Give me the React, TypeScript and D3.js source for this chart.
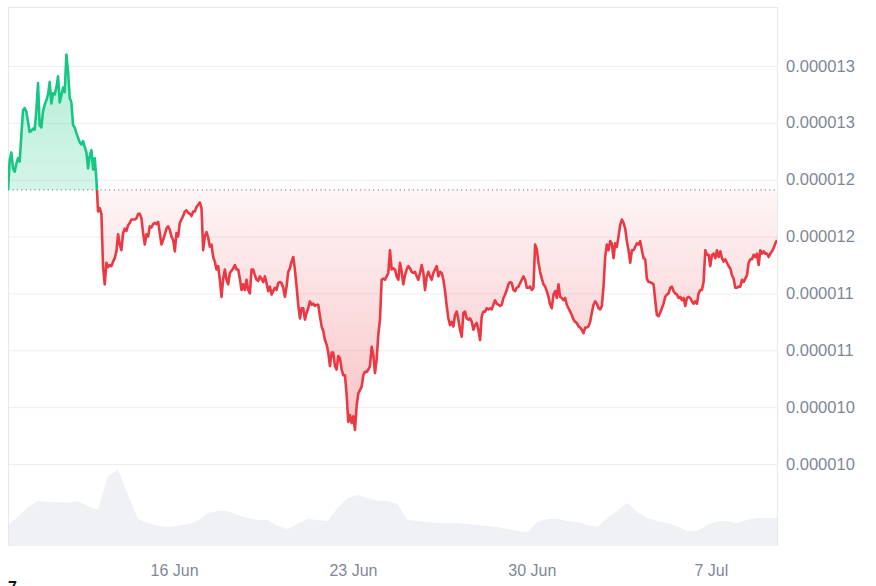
import React, { useEffect, useRef } from "react";
import * as d3 from "d3";

// Price series (in units of 1e-6 USD), evenly spaced in time over the period
const PRICE_A = [
  11.91, 12.17, 12.24, 12.10, 12.07, 12.14, 12.19, 12.16, 12.39, 12.61,
  12.63, 12.60, 12.51, 12.42, 12.43, 12.45, 12.44, 12.61, 12.85, 12.48,
  12.46, 12.60, 12.66, 12.70, 12.75, 12.86, 12.67, 12.76, 12.75, 12.81,
  12.91, 12.68, 12.74, 12.81, 12.77, 13.10, 12.95, 12.72, 12.68, 12.48,
  12.46, 12.41, 12.37, 12.33, 12.31, 12.34, 12.29, 12.24, 12.10, 12.21,
  12.26, 12.09, 12.19, 12.00, 11.72, 11.75, 11.70, 11.23, 11.08, 11.27,
  11.23, 11.25, 11.24, 11.28, 11.31, 11.37, 11.52, 11.43, 11.38, 11.53,
  11.57, 11.55, 11.60, 11.62, 11.65, 11.65,
];
const PRICE_B = [
  11.65, 11.66, 11.70, 11.70, 11.66, 11.53, 11.43, 11.52, 11.50, 11.59,
  11.58, 11.61, 11.62, 11.61, 11.63, 11.53, 11.43, 11.47, 11.52, 11.57,
  11.59, 11.56, 11.50, 11.47, 11.37, 11.53, 11.50, 11.62, 11.65, 11.68,
  11.72, 11.73, 11.71, 11.70, 11.68, 11.72, 11.72, 11.76, 11.78, 11.80,
  11.75, 11.38, 11.50, 11.54, 11.49, 11.41, 11.43, 11.32, 11.28, 11.21,
  11.24, 11.12, 10.97, 11.13, 11.21, 11.12, 11.08, 11.18, 11.20, 11.22,
  11.25, 11.21, 11.21, 11.13, 11.03, 11.08, 11.03, 11.12, 11.03, 11.00,
  11.21, 11.21, 11.16, 11.12, 11.11,
];
const PRICE_C = [
  11.15, 11.13, 11.10, 11.15, 11.09, 11.02, 11.06, 10.99, 11.02, 11.05,
  11.03, 11.09, 11.10, 11.09, 11.05, 10.97, 11.06, 11.19, 11.22, 11.28,
  11.32, 11.21, 11.06, 10.90, 10.78, 10.87, 10.87, 10.77, 10.83, 10.87,
  10.93, 10.90, 10.91, 10.89, 10.90, 10.90, 10.80, 10.71, 10.67, 10.59,
  10.55, 10.48, 10.36, 10.48, 10.48, 10.36, 10.33, 10.45, 10.43, 10.33,
  10.28, 10.28, 10.11, 9.87, 9.93, 9.86, 9.92, 9.80, 10.01, 10.12,
  10.15, 10.18, 10.28, 10.31, 10.31, 10.33, 10.36, 10.53, 10.46, 10.30,
  10.42, 10.64, 10.77, 11.12, 11.13,
];
const PRICE_D = [
  11.12, 11.15, 11.18, 11.38, 11.21, 11.22, 11.21, 11.15, 11.12, 11.27,
  11.19, 11.08, 11.16, 11.21, 11.24, 11.22, 11.19, 11.18, 11.19, 11.15,
  11.12, 11.18, 11.25, 11.18, 11.03, 11.15, 11.19, 11.15, 11.12, 11.18,
  11.21, 11.24, 11.15, 11.19, 11.18, 11.12, 11.02, 10.89, 10.78, 10.72,
  10.75, 10.71, 10.81, 10.84, 10.77, 10.68, 10.62, 10.83, 10.84, 10.78,
  10.77, 10.78, 10.75, 10.68, 10.72, 10.74, 10.68, 10.59, 10.80, 10.84,
  10.84, 10.87, 10.86, 10.87, 10.86, 10.90, 10.94, 10.91, 10.90, 10.89,
  10.90, 10.96, 10.99, 11.03, 11.08,
];
const PRICE_E = [
  11.10, 11.09, 11.03, 11.02, 11.05, 11.06, 11.09, 11.12, 11.15, 11.12,
  11.05, 11.05, 11.06, 11.03, 11.05, 11.43, 11.39, 11.27, 11.19, 11.13,
  11.08, 11.06, 11.02, 10.97, 10.90, 10.87, 10.99, 11.02, 10.96, 11.08,
  10.97, 10.96, 10.94, 10.96, 10.90, 10.87, 10.84, 10.81, 10.77, 10.75,
  10.74, 10.71, 10.70, 10.68, 10.65, 10.70, 10.70, 10.71, 10.75, 10.83,
  10.90, 10.93, 10.91, 10.87, 10.86, 10.89, 11.06, 11.32, 11.43, 11.38,
  11.46, 11.44, 11.31, 11.44, 11.41, 11.50, 11.60, 11.65, 11.62, 11.57,
  11.46, 11.38, 11.27, 11.38, 11.38, 11.41, 11.44, 11.43,
];
const PRICE_F = [
  11.46, 11.38, 11.31, 11.30, 11.13, 11.10, 11.10, 11.09, 11.08, 10.94,
  10.81, 10.80, 10.83, 10.87, 10.91, 10.97, 10.99, 11.00, 11.05, 11.06,
  11.02, 11.00, 10.99, 10.96, 10.97, 10.94, 10.96, 10.89, 10.96, 10.97,
  10.96, 10.93, 10.91, 10.93, 10.91, 11.00, 11.03, 11.03, 11.10, 11.38,
  11.34, 11.34, 11.24, 11.34, 11.35, 11.31, 11.38, 11.32, 11.37, 11.31,
  11.28, 11.30, 11.27, 11.24, 11.22, 11.16, 11.13, 11.05, 11.05, 11.06,
  11.06, 11.12, 11.10, 11.13, 11.16, 11.27, 11.30, 11.30, 11.34, 11.32,
  11.35, 11.25, 11.38, 11.35, 11.37, 11.35, 11.35, 11.32, 11.35, 11.37,
  11.40, 11.44, 11.47,
];

// Volume (relative units), evenly spaced over the same period
const VOLUME = [
  21, 29, 39, 45, 44, 44, 43, 45, 40, 36,
  70, 76, 52, 27, 23, 20, 19, 20, 22, 25,
  33, 35, 35, 31, 28, 26, 26, 20, 17, 22,
  27, 26, 25, 38, 48, 51, 48, 45, 45, 42,
  26, 25, 24, 23, 23, 23, 22, 21, 20, 19,
  17, 15, 14, 24, 27, 27, 25, 24, 21, 19,
  28, 35, 43, 34, 28, 25, 23, 20, 15, 15,
  21, 25, 25, 23, 26, 28, 28, 28,
];

const Y_TICKS = [13.0, 12.5, 12.0, 11.5, 11.0, 10.5, 10.0, 9.5];
const Y_TICK_LABELS = [
  "0.000013", "0.000013", "0.000012", "0.000012",
  "0.000011", "0.000011", "0.000010", "0.000010",
];
const X_TICKS = [
  new Date(2024, 5, 16), new Date(2024, 5, 23),
  new Date(2024, 5, 30), new Date(2024, 6, 7),
];
const START = new Date(2024, 5, 9, 11, 40);
const END = new Date(2024, 6, 9, 13, 40);

const W = 876;
const H = 586;

export default function App() {
  const ref = useRef<SVGSVGElement>(null);

  useEffect(() => {
    const price = [...PRICE_A, ...PRICE_B, ...PRICE_C, ...PRICE_D, ...PRICE_E, ...PRICE_F];
    const n = price.length;
    const span = END.getTime() - START.getTime();
    const data = price.map((v, i) => ({ t: new Date(START.getTime() + (span * i) / (n - 1)), v }));
    const vol = VOLUME.map((v, i) => ({
      t: new Date(START.getTime() + (span * i) / (VOLUME.length - 1)),
      v,
    }));

    const left = 8, right = 777, top = 7, bottom = 546;
    const x = d3.scaleTime().domain([START, END]).range([left, right]);
    const y = d3.scaleLinear().domain([9.5, 13.0]).range([464, 66]);
    const yv = d3.scaleLinear().domain([0, 77]).range([bottom, 469]);

    const base = price[0];
    const baseY = y(base);

    const svg = d3.select(ref.current);
    svg.selectAll("*").remove();
    const defs = svg.append("defs");

    defs.append("clipPath").attr("id", "clipAbove")
      .append("rect").attr("x", left).attr("y", 0).attr("width", right - left).attr("height", baseY);
    defs.append("clipPath").attr("id", "clipBelow")
      .append("rect").attr("x", left).attr("y", baseY).attr("width", right - left).attr("height", bottom - baseY);

    const gGreen = defs.append("linearGradient").attr("id", "gGreen")
      .attr("gradientUnits", "userSpaceOnUse")
      .attr("x1", 0).attr("x2", 0).attr("y1", y(d3.max(price)!)).attr("y2", baseY);
    gGreen.append("stop").attr("offset", 0).attr("stop-color", "#16c784").attr("stop-opacity", 0.32);
    gGreen.append("stop").attr("offset", 1).attr("stop-color", "#16c784").attr("stop-opacity", 0.18);

    const gRed = defs.append("linearGradient").attr("id", "gRed")
      .attr("gradientUnits", "userSpaceOnUse")
      .attr("x1", 0).attr("x2", 0).attr("y1", baseY).attr("y2", y(d3.min(price)!));
    gRed.append("stop").attr("offset", 0).attr("stop-color", "#ea3943").attr("stop-opacity", 0.05);
    gRed.append("stop").attr("offset", 1).attr("stop-color", "#ea3943").attr("stop-opacity", 0.3);

    svg.append("rect").attr("width", W).attr("height", H).attr("fill", "#fff");

    // volume
    const volArea = d3.area<{ t: Date; v: number }>()
      .x((d) => x(d.t)).y0(bottom).y1((d) => yv(d.v));
    svg.append("path").datum(vol).attr("d", volArea).attr("fill", "#eff1f5");

    // grid
    svg.append("g").selectAll("line").data(Y_TICKS).join("line")
      .attr("x1", left).attr("x2", right)
      .attr("y1", (d) => y(d) + 0.5).attr("y2", (d) => y(d) + 0.5)
      .attr("stroke", "#eceef2").attr("stroke-width", 1);

    // frame
    const frame = svg.append("g").attr("stroke", "#e6e8ec").attr("stroke-width", 1);
    frame.append("line").attr("x1", left).attr("x2", right).attr("y1", top + 0.5).attr("y2", top + 0.5);
    frame.append("line").attr("x1", left + 0.5).attr("x2", left + 0.5).attr("y1", top).attr("y2", bottom);
    frame.append("line").attr("x1", right + 0.5).attr("x2", right + 0.5).attr("y1", top).attr("y2", bottom);

    // areas
    const area = d3.area<{ t: Date; v: number }>()
      .x((d) => x(d.t)).y0(baseY).y1((d) => y(d.v));
    svg.append("path").datum(data).attr("d", area)
      .attr("fill", "url(#gGreen)").attr("clip-path", "url(#clipAbove)");
    svg.append("path").datum(data).attr("d", area)
      .attr("fill", "url(#gRed)").attr("clip-path", "url(#clipBelow)");

    // baseline
    svg.append("line").attr("x1", left).attr("x2", right)
      .attr("y1", baseY).attr("y2", baseY)
      .attr("stroke", "#8a919c").attr("stroke-width", 1.2)
      .attr("stroke-dasharray", "1.2,3.2");

    // lines
    const line = d3.line<{ t: Date; v: number }>().x((d) => x(d.t)).y((d) => y(d.v));
    svg.append("path").datum(data).attr("d", line)
      .attr("fill", "none").attr("stroke", "#16c784").attr("stroke-width", 2.6)
      .attr("stroke-linejoin", "round").attr("clip-path", "url(#clipAbove)");
    svg.append("path").datum(data).attr("d", line)
      .attr("fill", "none").attr("stroke", "#ea3943").attr("stroke-width", 2.6)
      .attr("stroke-linejoin", "round").attr("clip-path", "url(#clipBelow)");

    const font = "'Liberation Sans', Arial, sans-serif";
    // y labels
    svg.append("g").selectAll("text").data(Y_TICKS).join("text")
      .attr("x", 786).attr("y", (d) => y(d) + 5.5)
      .attr("font-family", font).attr("font-size", 16.5).attr("fill", "#7f8797")
      .text((_, i) => Y_TICK_LABELS[i]);

    // x labels
    const fmt = d3.timeFormat("%-d %b");
    svg.append("g").selectAll("text").data(X_TICKS).join("text")
      .attr("x", (d) => x(d)).attr("y", 576).attr("text-anchor", "middle")
      .attr("font-family", font).attr("font-size", 16).attr("fill", "#7f8797")
      .text((d) => fmt(d));

    svg.append("text").attr("x", 8).attr("y", 593)
      .attr("font-family", font).attr("font-weight", "bold").attr("font-size", 16)
      .attr("fill", "#111").text("7");
  }, []);

  return (
    <div style={{ position: "absolute", left: 0, top: 0, width: W, height: H, overflow: "hidden", background: "#fff" }}>
      <svg ref={ref} width={W} height={H} style={{ display: "block" }} />
    </div>
  );
}
